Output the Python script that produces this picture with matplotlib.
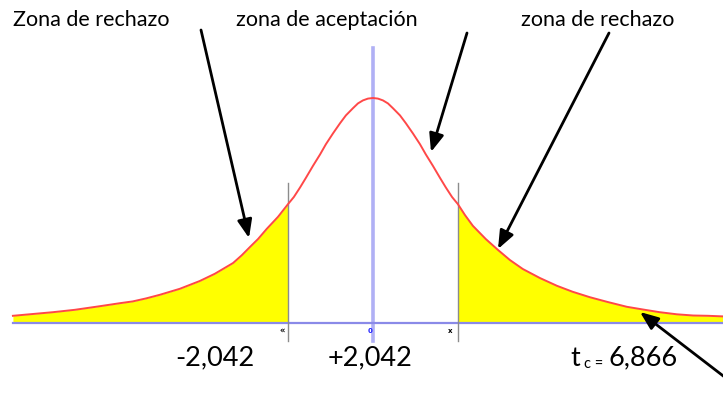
import numpy as np
import matplotlib
matplotlib.use("Agg")
import matplotlib.pyplot as plt

# curve: t value and density height
t_vals = [-8.65, -7.69, -7.16, -6.56, -6.08, -5.77, -5.45, -5.12, -4.64, -4.16,
          -3.80, -3.36, -3.15, -2.95, -2.76, -2.55, -2.28, -2.042,
          -1.90, -1.75, -1.61, -1.44, -1.27, -1.13, -0.96, -0.79, -0.65, -0.48,
          -0.36, -0.24, -0.12, 0.0,
          0.12, 0.24, 0.36, 0.48, 0.65, 0.79, 0.96, 1.13, 1.27, 1.44, 1.61, 1.75, 1.90,
          2.042, 2.21, 2.40, 2.71, 3.00, 3.29, 3.60, 4.01, 4.42, 4.80, 5.21,
          5.64, 6.10, 6.53, 6.89, 7.30, 7.69, 8.05, 8.41]
dens = [0.012, 0.018, 0.022, 0.028, 0.033, 0.036, 0.041, 0.047, 0.057, 0.070,
        0.082, 0.100, 0.113, 0.127, 0.140, 0.157, 0.177, 0.198,
        0.210, 0.226, 0.242, 0.262, 0.281, 0.298, 0.316, 0.333, 0.346, 0.358,
        0.366, 0.371, 0.374, 0.375,
        0.374, 0.371, 0.366, 0.358, 0.346, 0.333, 0.316, 0.298, 0.281, 0.262, 0.242, 0.226, 0.210,
        0.198, 0.180, 0.162, 0.140, 0.122, 0.105, 0.090, 0.075, 0.062, 0.052, 0.043,
        0.035, 0.027, 0.022, 0.018, 0.0145, 0.0125, 0.012, 0.011]

t_crit = 2.042
crit_labels = ["-2,042", "+2,042"]
tc_value = "6,866"
zone_labels = ["Zona de rechazo", "zona de aceptación", "zona de rechazo"]

W, H = 723, 396
fig = plt.figure(figsize=(W / 100, H / 100), dpi=100)
ax = fig.add_axes([0, 0, 1, 1])
ax.set_xlim(-8.96, 8.41)
ax.set_ylim(-73 / 600, 323 / 600)
ax.axis("off")

t = np.array(t_vals)
d = np.array(dens)

# rejection tails
ax.fill_between(t, d, 0, where=t <= -t_crit + 1e-9, color="#ffff00", lw=0)
ax.fill_between(t, d, 0, where=t >= t_crit - 1e-9, color="#ffff00", lw=0)

# axes of the sketch
ax.plot([t[0], t[-1]], [0, 0], color="#8a8ae8", lw=1.6, zorder=3)
ax.plot([0, 0], [-0.03, 0.458], color="#b0b0f5", lw=2.6, zorder=2)
for c in (-t_crit, t_crit):
    ax.plot([c, c], [-0.03, 0.233], color="#8c8c8c", lw=1.0, zorder=3)

ax.plot(t, d, color="#ff4848", lw=1.4, zorder=4, solid_joinstyle="round")

# tiny tick marks under the axis
ax.text(-t_crit - 0.15, -0.013, "«", fontsize=6, fontweight="bold", ha="center", va="center")
ax.text(-0.06, -0.013, "0", fontsize=5, fontweight="bold", color="#2020ff", ha="center", va="center")
ax.text(t_crit - 0.18, -0.013, "x", fontsize=5, fontweight="bold", ha="center", va="center")

font = "Lato"
fp = dict(xycoords="figure pixels", textcoords="figure pixels")
fig.text(13 / W, 1 - 20 / H, zone_labels[0], fontsize=15.5, family=font, va="center", ha="left")
fig.text(327 / W, 1 - 20 / H, zone_labels[1], fontsize=15.5, family=font, va="center", ha="center")
fig.text(598 / W, 1 - 20 / H, zone_labels[2], fontsize=15.5, family=font, va="center", ha="center")

arrows = [((201, 30), (249, 238)), ((467, 33), (431, 152)),
          ((609, 33), (498, 249)), ((735, 385), (640, 312))]
for (x0, y0), (x1, y1) in arrows:
    ax.annotate("", xy=(x1, H - y1), xytext=(x0, H - y0), **fp,
                arrowprops=dict(arrowstyle="-|>,head_length=0.55,head_width=0.22",
                                color="black", lw=2, mutation_scale=20,
                                shrinkA=0, shrinkB=0))

fig.text(215 / W, 1 - 358 / H, crit_labels[0], fontsize=19.5, family=font, ha="center", va="center")
fig.text(370 / W, 1 - 358 / H, crit_labels[1], fontsize=19.5, family=font, ha="center", va="center")
fig.text(570 / W, 1 - 358 / H, "t", fontsize=19.5, family=font, ha="left", va="center")
fig.text(584 / W, 1 - 364 / H, "c =", fontsize=10.5, family=font, ha="left", va="center")
fig.text(608 / W, 1 - 358 / H, tc_value, fontsize=19.5, family=font, ha="left", va="center")

fig.savefig("out.png", dpi=100)
